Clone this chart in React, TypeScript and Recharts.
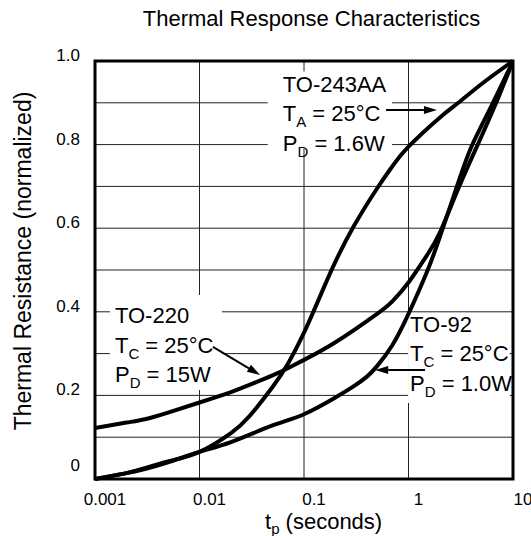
import React from 'react';
import { LineChart, Line, XAxis, YAxis, CartesianGrid, ReferenceArea, ReferenceLine } from 'recharts';

// pulse width (s) and normalized thermal resistance
const to243Time = [0.001, 0.002, 0.003, 0.005, 0.01, 0.02, 0.03, 0.05, 0.07, 0.1, 0.15, 0.2, 0.3, 0.5, 0.7, 1, 2, 3, 5, 10];
const to243Res = [0.0, 0.014, 0.026, 0.042, 0.065, 0.11, 0.15, 0.22, 0.275, 0.35, 0.45, 0.52, 0.605, 0.695, 0.748, 0.795, 0.865, 0.9, 0.945, 1.0];

const to220Time = [0.001, 0.002, 0.003, 0.005, 0.01, 0.02, 0.03, 0.05, 0.07, 0.1, 0.2, 0.5, 0.7, 1, 1.5, 2, 3, 4.6, 6.9, 10];
const to220Res = [0.122, 0.135, 0.143, 0.159, 0.183, 0.208, 0.225, 0.248, 0.265, 0.285, 0.327, 0.395, 0.425, 0.47, 0.535, 0.59, 0.695, 0.8, 0.9, 1.0];

const to92Time = [0.001, 0.002, 0.003, 0.005, 0.01, 0.02, 0.05, 0.1, 0.2, 0.3, 0.4, 0.5, 0.7, 1, 1.5, 2, 3, 4, 6, 10];
const to92Res = [0.0, 0.014, 0.024, 0.04, 0.065, 0.088, 0.128, 0.155, 0.195, 0.222, 0.245, 0.27, 0.32, 0.395, 0.495, 0.58, 0.71, 0.795, 0.885, 1.0];

const xTicks = [0.001, 0.01, 0.1, 1, 10];
const xTickLabels = ['0.001', '0.01', '0.1', '1', '10'];
const yGridTicks = [0, 0.1, 0.2, 0.3, 0.4, 0.5, 0.6, 0.7, 0.8, 0.9, 1.0];
const yLabelTicks = [0, 0.2, 0.4, 0.6, 0.8, 1.0];
const yTickLabels = ['0', '0.2', '0.4', '0.6', '0.8', '1.0'];

// annotation text: [main, subscript, rest]
const to243Note = [['TO-243AA', '', ''], ['T', 'A', ' = 25°C'], ['P', 'D', ' = 1.6W']];
const to220Note = [['TO-220', '', ''], ['T', 'C', ' = 25°C'], ['P', 'D', ' = 15W']];
const to92Note = [['TO-92', '', ''], ['T', 'C', ' = 25°C'], ['P', 'D', ' = 1.0W']];

const font = '"Liberation Sans", Arial, Helvetica, sans-serif';

const toPoints = (t: number[], v: number[]) => t.map((x, i) => ({ t: x, v: v[i] }));

const XTick = (props: any) => {
  const idx = xTicks.findIndex((t) => Math.abs(t - props.payload.value) < t * 1e-6);
  return (
    <text x={props.x + 10} y={props.y + 26} textAnchor="middle" fontSize={17} fontFamily={font} fill="#000">
      {idx >= 0 ? xTickLabels[idx] : ''}
    </text>
  );
};

const YTick = (props: any) => {
  const idx = yLabelTicks.findIndex((t) => Math.abs(t - props.payload.value) < 1e-6);
  if (idx < 0) return <g />;
  return (
    <text x={props.x - 15} y={props.y + (idx === 0 ? -8 : 0)} textAnchor="end" fontSize={17} fontFamily={font} fill="#000">
      {yTickLabels[idx]}
    </text>
  );
};

const noteLabel = (lines: string[][], dx: number, dy: number) => (props: any) => {
  const vb = props.viewBox || {};
  return (
    <g>
      {lines.map((ln, i) => (
        <text key={i} x={vb.x + dx} y={vb.y + dy + i * 29.5} fontSize={22} fontFamily={font} fill="#000">
          {ln[0]}
          {ln[1] ? <tspan fontSize={15} dy={6}>{ln[1]}</tspan> : null}
          {ln[2] ? <tspan dy={ln[1] ? -6 : 0}>{ln[2]}</tspan> : null}
        </text>
      ))}
    </g>
  );
};

const Arrow = (props: any) => {
  const { x1, y1, x2, y2 } = props;
  const ang = Math.atan2(y2 - y1, x2 - x1);
  const len = 13;
  const w = 4;
  const bx = x2 - len * Math.cos(ang);
  const by = y2 - len * Math.sin(ang);
  const px = -Math.sin(ang) * w;
  const py = Math.cos(ang) * w;
  return (
    <g>
      <line x1={x1} y1={y1} x2={bx} y2={by} stroke="#000" strokeWidth={2} />
      <polygon points={`${x2},${y2} ${bx + px},${by + py} ${bx - px},${by - py}`} fill="#000" />
    </g>
  );
};

export default function App() {
  return (
    <div style={{ position: 'absolute', left: 0, top: 0, width: 531, height: 536, background: '#fff' }}>
      <LineChart width={531} height={536} margin={{ top: 61, right: 18, bottom: 17, left: 15 }}>
        <CartesianGrid stroke="#222" strokeWidth={1} />
        <XAxis
          dataKey="t"
          type="number"
          scale="log"
          domain={[0.001, 10]}
          ticks={xTicks}
          interval={0}
          height={40}
          tickSize={0}
          tickMargin={0}
          axisLine={false}
          tick={<XTick />}
          allowDataOverflow
        />
        <YAxis
          type="number"
          domain={[0, 1]}
          ticks={yGridTicks}
          interval={0}
          width={80}
          tickSize={0}
          tickMargin={0}
          axisLine={false}
          tick={<YTick />}
        />
        <ReferenceArea x1={0.045} x2={0.695} y1={0.79} y2={0.975} fill="#fff" fillOpacity={1} stroke="none" label={noteLabel(to243Note, 15, 20.5)} />
        <ReferenceArea x1={0.00139} x2={0.0164} y1={0.213} y2={0.44} fill="#fff" fillOpacity={1} stroke="none" label={noteLabel(to220Note, 5, 28)} />
        <ReferenceArea x1={0.99} x2={9.3} y1={0.182} y2={0.395} fill="#fff" fillOpacity={1} stroke="none" label={noteLabel(to92Note, 2, 18)} />
        <Line data={toPoints(to220Time, to220Res)} dataKey="v" type="natural" stroke="#000" strokeWidth={4} dot={false} isAnimationActive={false} />
        <Line data={toPoints(to92Time, to92Res)} dataKey="v" type="natural" stroke="#000" strokeWidth={4} dot={false} isAnimationActive={false} />
        <Line data={toPoints(to243Time, to243Res)} dataKey="v" type="natural" stroke="#000" strokeWidth={4} dot={false} isAnimationActive={false} />
        <ReferenceLine segment={[{ x: 0.61, y: 0.883 }, { x: 1.87, y: 0.883 }]} shape={<Arrow />} />
        <ReferenceLine segment={[{ x: 0.01345, y: 0.316 }, { x: 0.038, y: 0.249 }]} shape={<Arrow />} />
        <ReferenceLine segment={[{ x: 1.44, y: 0.261 }, { x: 0.48, y: 0.261 }]} shape={<Arrow />} />
        <ReferenceArea x1={0.001} x2={10} y1={0} y2={1} fill="none" stroke="#000" strokeWidth={3} ifOverflow="visible" />
      </LineChart>
      <svg width={531} height={536} style={{ position: 'absolute', left: 0, top: 0, pointerEvents: 'none' }}>
        <text x={311.5} y={26} textAnchor="middle" fontSize={22} fontFamily={font} fill="#000">
          Thermal Response Characteristics
        </text>
        <text transform="translate(31,261) rotate(-90)" textAnchor="middle" fontSize={23} fontFamily={font} fill="#000">
          Thermal Resistance (normalized)
        </text>
        <text x={265} y={529} fontSize={22} fontFamily={font} fill="#000">
          t<tspan fontSize={15} dy={5}>p</tspan>
          <tspan dy={-5}> (seconds)</tspan>
        </text>
      </svg>
    </div>
  );
}
